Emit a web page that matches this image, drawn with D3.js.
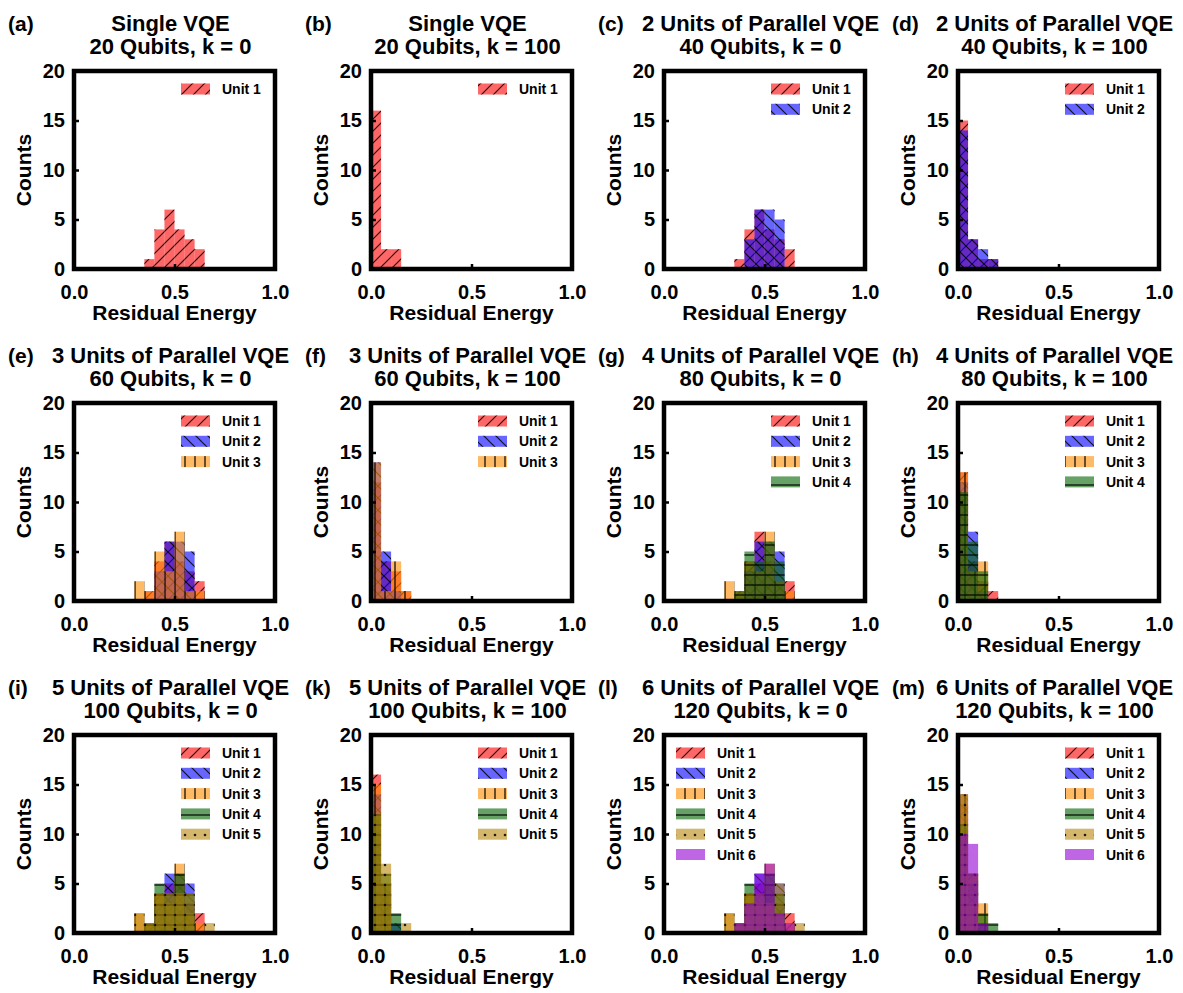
<!DOCTYPE html>
<html>
<head>
<meta charset="utf-8">
<script src="https://cdn.jsdelivr.net/npm/d3@7"></script>
<style>
body { margin: 0; background: #fff; }
svg text { font-family: "Liberation Sans", Arial, sans-serif; font-weight: bold; fill: #000; }
</style>
</head>
<body>
<svg id="fig" width="1183" height="993"></svg>
<script>
// histogram bins are 0.05 wide, each entry is [first bin start, counts...]
var binWidth = 0.05;

var unitNames = ["Unit 1", "Unit 2", "Unit 3", "Unit 4", "Unit 5", "Unit 6"];
var unitColors = ["#ff0000", "#0000ff", "#ff8c00", "#006400", "#b8860b", "#9400d3"];
var unitHatch = ["diag", "back", "vert", "horiz", "dots", "none"];

var panelLetters = ["(a)", "(b)", "(c)", "(d)", "(e)", "(f)", "(g)", "(h)", "(i)", "(k)", "(l)", "(m)"];
var titleTop = ["Single VQE", "Single VQE",
  "2 Units of Parallel VQE", "2 Units of Parallel VQE",
  "3 Units of Parallel VQE", "3 Units of Parallel VQE",
  "4 Units of Parallel VQE", "4 Units of Parallel VQE",
  "5 Units of Parallel VQE", "5 Units of Parallel VQE",
  "6 Units of Parallel VQE", "6 Units of Parallel VQE"];
var titleBottom = ["20 Qubits, k = 0", "20 Qubits, k = 100",
  "40 Qubits, k = 0", "40 Qubits, k = 100",
  "60 Qubits, k = 0", "60 Qubits, k = 100",
  "80 Qubits, k = 0", "80 Qubits, k = 100",
  "100 Qubits, k = 0", "100 Qubits, k = 100",
  "120 Qubits, k = 0", "120 Qubits, k = 100"];
var legendOnLeft = [false, false, false, false, false, false, false, false, false, false, true, false];

var yTicks = [0, 5, 10, 15, 20];
var xTicks = [0, 0.5, 1.0];

var histA = [[0.35, [1, 4, 6, 4, 3, 2]]];
var histB = [[0.0, [16, 2, 2]]];
var histC = [[0.35, [1, 4, 6, 4, 3, 2]], [0.40, [3, 6, 6, 5]]];
var histD = [[0.0, [15, 3, 1, 1]], [0.0, [14, 3, 2, 1]]];
var histE = [[0.35, [1, 4, 6, 4, 3, 2]], [0.40, [3, 6, 6, 5]], [0.30, [2, 1, 5, 3, 7, 1, 1]]];
var histF = [[0.0, [12, 4, 3, 1]], [0.0, [14, 5, 1]], [0.0, [14, 1, 4, 1]]];
var histG = [[0.35, [1, 4, 7, 4, 2, 2]], [0.40, [3, 6, 6, 5]], [0.30, [2, 1, 4, 3, 7, 2, 1]], [0.35, [1, 5, 4, 6, 4]]];
var histH = [[0.0, [13, 4, 2, 1]], [0.0, [12, 7, 1]], [0.0, [13, 3, 4]], [0.0, [11, 6, 3]]];
var histI = [[0.35, [1, 4, 5, 5, 3, 2]], [0.40, [3, 6, 6, 5]], [0.30, [2, 1, 4, 3, 7, 2, 1]],
             [0.35, [1, 5, 4, 6, 4]], [0.30, [2, 1, 4, 4, 4, 4, 0, 1]]];
var histK = [[0.0, [16, 4]], [0.0, [14, 5, 1]], [0.0, [15, 5]], [0.0, [12, 6, 2]], [0.0, [12, 7, 0, 1]]];
var histL = [[0.35, [1, 4, 5, 5, 3, 2]], [0.40, [3, 6, 6, 5]], [0.30, [2, 1, 4, 3, 7, 2, 1]],
             [0.35, [1, 5, 4, 6, 4]], [0.30, [2, 1, 4, 4, 3, 5, 0, 1]], [0.35, [1, 3, 6, 7, 2, 1]]];
var histM = [[0.0, [13, 6, 1]], [0.0, [14, 5, 1]], [0.0, [14, 3, 3]], [0.0, [11, 6, 2, 1]], [0.0, [14, 6]], [0.0, [10, 9, 1]]];

var panels = [histA, histB, histC, histD, histE, histF, histG, histH, histI, histK, histL, histM];

// layout
var colLeft = [74, 371, 664, 958];
var rowTop = [71, 403, 735];
var plotW = 201, plotH = 198;

var svg = d3.select("#fig");
var defs = svg.append("defs");

function addPattern(id, size, draw) {
  var p = defs.append("pattern")
    .attr("id", id)
    .attr("patternUnits", "userSpaceOnUse")
    .attr("width", size).attr("height", size);
  draw(p);
}
addPattern("diag", 12, function(p) {
  p.append("path").attr("d", "M0,12 L12,0 M-3,3 L3,-3 M9,15 L15,9")
    .attr("stroke", "#000").attr("stroke-width", 1.2);
});
addPattern("back", 12, function(p) {
  p.append("path").attr("d", "M0,0 L12,12 M-3,9 L3,15 M9,-3 L15,3")
    .attr("stroke", "#000").attr("stroke-width", 1.2);
});
addPattern("vert", 10, function(p) {
  p.append("path").attr("d", "M5,0 L5,10").attr("stroke", "#000").attr("stroke-width", 1.4);
});
addPattern("horiz", 10, function(p) {
  p.append("path").attr("d", "M0,5 L10,5").attr("stroke", "#000").attr("stroke-width", 1.4);
});
addPattern("dots", 10, function(p) {
  p.append("circle").attr("cx", 5).attr("cy", 5).attr("r", 1.3).attr("fill", "#000");
});

panels.forEach(function(hists, pi) {
  var x0 = colLeft[pi % 4];
  var y0 = rowTop[Math.floor(pi / 4)];
  var x = d3.scaleLinear().domain([0, 1]).range([x0, x0 + plotW]);
  var y = d3.scaleLinear().domain([0, 20]).range([y0 + plotH, y0]);
  var g = svg.append("g");

  // bars, one unit after the other
  hists.forEach(function(h, ui) {
    var bins = h[1].map(function(c, i) {
      return { x0: h[0] + i * binWidth, count: c };
    }).filter(function(b) { return b.count > 0; });
    var ug = g.append("g");
    ug.selectAll("rect.fill").data(bins).enter().append("rect")
      .attr("class", "fill")
      .attr("x", function(d) { return x(d.x0); })
      .attr("width", function(d) { return x(d.x0 + binWidth) - x(d.x0); })
      .attr("y", function(d) { return y(d.count); })
      .attr("height", function(d) { return y(0) - y(d.count); })
      .attr("fill", unitColors[ui])
      .attr("fill-opacity", 0.6);
    if (unitHatch[ui] != "none") {
      ug.selectAll("rect.hatch").data(bins).enter().append("rect")
        .attr("class", "hatch")
        .attr("x", function(d) { return x(d.x0); })
        .attr("width", function(d) { return x(d.x0 + binWidth) - x(d.x0); })
        .attr("y", function(d) { return y(d.count); })
        .attr("height", function(d) { return y(0) - y(d.count); })
        .attr("fill", "url(#" + unitHatch[ui] + ")")
        .attr("opacity", 0.85);
    }
  });

  // axes, ticks pointing inward
  var yAxis = g.append("g")
    .attr("transform", "translate(" + x0 + ",0)")
    .call(d3.axisLeft(y).tickValues(yTicks).tickSize(-5).tickPadding(9));
  var xAxis = g.append("g")
    .attr("transform", "translate(0," + (y0 + plotH) + ")")
    .call(d3.axisBottom(x).tickValues(xTicks).tickFormat(d3.format(".1f")).tickSize(-5).tickPadding(16));
  [yAxis, xAxis].forEach(function(a) {
    a.select(".domain").remove();
    a.selectAll("line").attr("stroke", "#000").attr("stroke-width", 2.5);
    a.selectAll("text").style("font-size", "20px").attr("font-family", null);
  });

  // frame
  g.append("rect")
    .attr("x", x0).attr("y", y0)
    .attr("width", plotW).attr("height", plotH)
    .attr("fill", "none").attr("stroke", "#000").attr("stroke-width", 4.5);

  // titles
  var cx = x0 + plotW / 2 - 4;
  g.append("text").attr("x", x0 - 66).attr("y", y0 - 40)
    .style("font-size", "21px").text(panelLetters[pi]);
  g.append("text").attr("x", cx).attr("y", y0 - 40)
    .attr("text-anchor", "middle").style("font-size", "22px").text(titleTop[pi]);
  g.append("text").attr("x", cx).attr("y", y0 - 17)
    .attr("text-anchor", "middle").style("font-size", "22px").text(titleBottom[pi]);

  g.append("text").attr("x", x0 + plotW / 2).attr("y", y0 + plotH + 51)
    .attr("text-anchor", "middle").style("font-size", "21px").text("Residual Energy");
  g.append("text")
    .attr("transform", "translate(" + (x0 - 43) + "," + (y0 + plotH / 2) + ") rotate(-90)")
    .attr("text-anchor", "middle").style("font-size", "21px").text("Counts");

  // legend
  var sx = legendOnLeft[pi] ? x0 + 12 : x0 + 107;
  var lg = g.append("g");
  hists.forEach(function(h, ui) {
    var ly = y0 + 18 + ui * 20.3;
    lg.append("rect").attr("x", sx).attr("y", ly - 5.5).attr("width", 29).attr("height", 11)
      .attr("fill", unitColors[ui]).attr("fill-opacity", 0.6);
    if (unitHatch[ui] != "none") {
      lg.append("rect").attr("x", sx).attr("y", ly - 5.5).attr("width", 29).attr("height", 11)
        .attr("fill", "url(#" + unitHatch[ui] + ")").attr("opacity", 0.85);
    }
    lg.append("text").attr("x", sx + 41).attr("y", ly + 5)
      .style("font-size", "14px").text(unitNames[ui]);
  });
});
</script>
</body>
</html>
